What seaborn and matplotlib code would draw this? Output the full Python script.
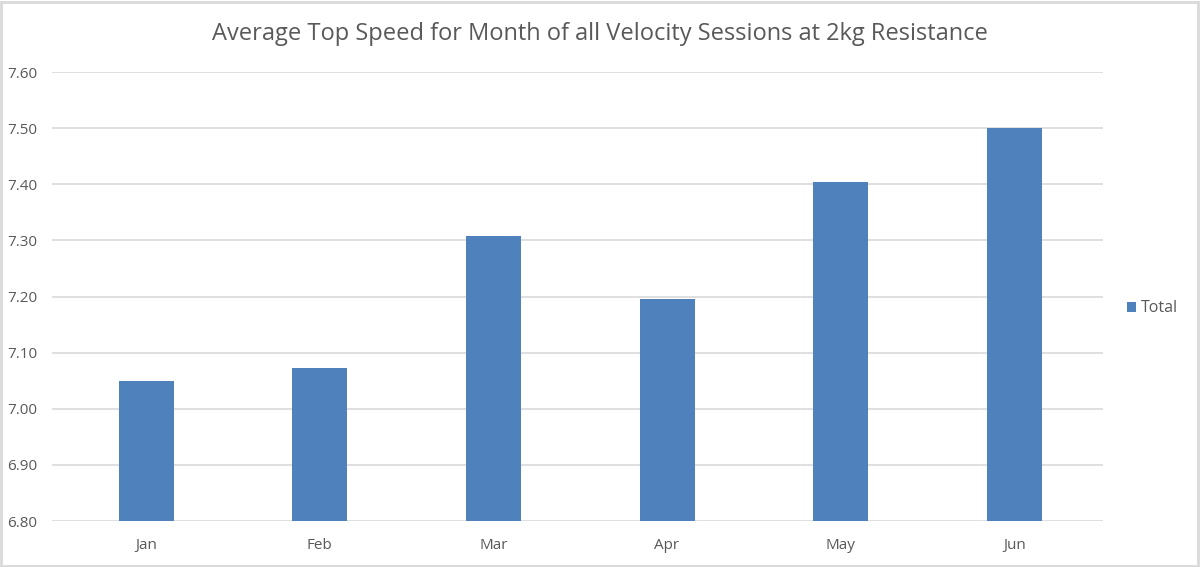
import matplotlib
matplotlib.use('Agg')
import matplotlib.pyplot as plt
import seaborn as sns
import pandas as pd
from matplotlib.ticker import FormatStrFormatter
from matplotlib.patches import Rectangle

months = ['Jan', 'Feb', 'Mar', 'Apr', 'May', 'Jun']
top_speed = [7.05, 7.073, 7.308, 7.195, 7.404, 7.501]
series_name = 'Total'

sns.set_theme(style='white')
plt.rcParams['font.family'] = ['Open Sans', 'DejaVu Sans']

df = pd.DataFrame({'month': months, 'speed': top_speed})

fig = plt.figure(figsize=(12, 5.67), dpi=100)
ax = fig.add_axes([0.0435, 0.081, 0.876, 0.792])

sns.barplot(data=df, x='month', y='speed', color='#4F81BD', saturation=1,
            width=0.317, label=series_name, ax=ax, linewidth=0)

ax.set_xlim(-0.541, 5.513)
ax.set_ylim(6.80, 7.60)
ax.set_yticks([6.8 + 0.1 * i for i in range(9)])
ax.yaxis.set_major_formatter(FormatStrFormatter('%.2f'))
ax.grid(axis='y', color='#D9D9D9', linewidth=1.2)
ax.set_axisbelow(True)
for s in ax.spines.values():
    s.set_visible(False)
ax.tick_params(axis='both', length=0, labelsize=11, labelcolor='#595959')
ax.tick_params(axis='y', pad=11)
ax.tick_params(axis='x', pad=12)
ax.set_xlabel('')
ax.set_ylabel('')

fig.suptitle('Average Top Speed for Month of all Velocity Sessions at 2kg Resistance',
             x=0.5, y=0.962, fontsize=17, color='#595959')

leg = ax.legend(loc='center left', bbox_to_anchor=(0.927, 0.456), bbox_transform=fig.transFigure,
                frameon=False, fontsize=11.5, handlelength=0.6, handleheight=0.6,
                handletextpad=0.3)
for t in leg.get_texts():
    t.set_color('#595959')

fig.patches.append(Rectangle((0.001, 0.002), 0.997, 0.995, transform=fig.transFigure,
                             fill=False, edgecolor='#D9D9D9', linewidth=2))

fig.savefig('out.png', dpi=100)
